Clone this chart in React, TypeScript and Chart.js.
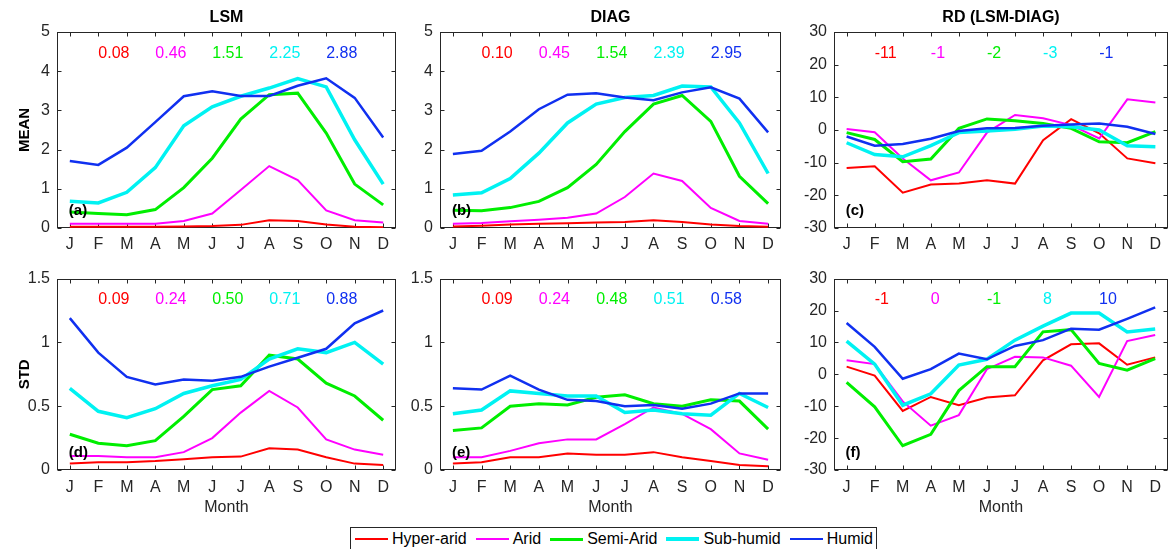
import React, { useEffect, useRef } from 'react';
import { Chart, registerables } from 'chart.js';

Chart.register(...registerables);

// ---------- data ----------
const months = ['J', 'F', 'M', 'A', 'M', 'J', 'J', 'A', 'S', 'O', 'N', 'D'];
const seriesNames = ['Hyper-arid', 'Arid', 'Semi-Arid', 'Sub-humid', 'Humid'];
const seriesColors = ['#ff0000', '#ff00ff', '#00ee00', '#00f2f2', '#1030f0'];
const seriesWidths = [2, 2, 3, 3.5, 2.5];
const noteMonths = [1, 3, 5, 7, 9];

// (a) LSM mean
const lsmMeanHyperArid = [0.03, 0.03, 0.03, 0.03, 0.04, 0.05, 0.08, 0.2, 0.18, 0.09, 0.03, 0.02];
const lsmMeanArid = [0.11, 0.11, 0.11, 0.11, 0.18, 0.37, 0.97, 1.58, 1.22, 0.45, 0.2, 0.14];
const lsmMeanSemiArid = [0.41, 0.37, 0.34, 0.47, 1.03, 1.78, 2.78, 3.4, 3.44, 2.42, 1.12, 0.59];
const lsmMeanSubHumid = [0.68, 0.64, 0.91, 1.54, 2.61, 3.09, 3.36, 3.57, 3.81, 3.6, 2.25, 1.12];
const lsmMeanHumid = [1.71, 1.61, 2.05, 2.7, 3.36, 3.49, 3.37, 3.37, 3.63, 3.82, 3.32, 2.31];
const lsmMeanNotes = ['0.08', '0.46', '1.51', '2.25', '2.88'];

// (b) DIAG mean
const diagMeanHyperArid = [0.04, 0.06, 0.09, 0.11, 0.12, 0.14, 0.15, 0.2, 0.15, 0.09, 0.05, 0.03];
const diagMeanArid = [0.11, 0.13, 0.17, 0.21, 0.26, 0.37, 0.79, 1.39, 1.2, 0.51, 0.18, 0.11];
const diagMeanSemiArid = [0.45, 0.44, 0.52, 0.68, 1.03, 1.62, 2.46, 3.16, 3.38, 2.72, 1.32, 0.62];
const diagMeanSubHumid = [0.84, 0.9, 1.26, 1.91, 2.68, 3.16, 3.33, 3.38, 3.62, 3.6, 2.68, 1.39];
const diagMeanHumid = [1.89, 1.97, 2.46, 3.03, 3.4, 3.44, 3.33, 3.26, 3.46, 3.59, 3.3, 2.44];
const diagMeanNotes = ['0.10', '0.45', '1.54', '2.39', '2.95'];

// (c) RD mean
const rdMeanHyperArid = [-11.6, -11.1, -19.2, -16.7, -16.4, -15.4, -16.4, -3.1, 3.3, -1.0, -8.7, -10.2];
const rdMeanArid = [0.3, -0.7, -8.7, -15.4, -13.0, -0.8, 4.6, 3.6, 1.5, -2.6, 9.4, 8.4];
const rdMeanSemiArid = [-0.8, -2.9, -9.7, -8.9, 0.5, 3.4, 2.8, 2.0, 0.5, -3.6, -3.9, -0.5];
const rdMeanSubHumid = [-3.9, -7.5, -8.2, -4.8, -0.8, -0.3, 0.2, 1.2, 1.0, 0.0, -4.8, -5.1];
const rdMeanHumid = [-2.0, -4.8, -4.3, -2.7, -0.3, 0.5, 0.6, 1.3, 1.7, 2.0, 1.0, -1.2];
const rdMeanNotes = ['-11', '-1', '-2', '-3', '-1'];

// (d) LSM std
const lsmStdHyperArid = [0.05, 0.06, 0.06, 0.07, 0.085, 0.1, 0.105, 0.17, 0.16, 0.1, 0.05, 0.04];
const lsmStdArid = [0.11, 0.11, 0.1, 0.1, 0.14, 0.25, 0.45, 0.62, 0.49, 0.24, 0.16, 0.12];
const lsmStdSemiArid = [0.28, 0.21, 0.19, 0.23, 0.42, 0.63, 0.66, 0.9, 0.87, 0.68, 0.58, 0.39];
const lsmStdSubHumid = [0.64, 0.46, 0.41, 0.48, 0.6, 0.66, 0.71, 0.87, 0.95, 0.92, 1.0, 0.83];
const lsmStdHumid = [1.19, 0.92, 0.73, 0.67, 0.71, 0.7, 0.73, 0.81, 0.88, 0.95, 1.15, 1.25];
const lsmStdNotes = ['0.09', '0.24', '0.50', '0.71', '0.88'];

// (e) DIAG std
const diagStdHyperArid = [0.05, 0.06, 0.1, 0.1, 0.13, 0.12, 0.12, 0.14, 0.1, 0.07, 0.04, 0.03];
const diagStdArid = [0.1, 0.1, 0.15, 0.21, 0.24, 0.24, 0.36, 0.49, 0.44, 0.32, 0.13, 0.08];
const diagStdSemiArid = [0.31, 0.33, 0.5, 0.52, 0.51, 0.57, 0.59, 0.52, 0.5, 0.55, 0.54, 0.32];
const diagStdSubHumid = [0.44, 0.47, 0.62, 0.6, 0.58, 0.58, 0.45, 0.47, 0.44, 0.43, 0.6, 0.49];
const diagStdHumid = [0.64, 0.63, 0.74, 0.63, 0.55, 0.54, 0.5, 0.51, 0.48, 0.52, 0.6, 0.6];
const diagStdNotes = ['0.09', '0.24', '0.48', '0.51', '0.58'];

// (f) RD std
const rdStdHyperArid = [2.4, -0.4, -11.5, -7.1, -9.7, -7.3, -6.6, 4.4, 9.4, 9.7, 3.0, 5.3];
const rdStdArid = [4.4, 3.2, -8.5, -16.1, -12.8, 1.6, 5.5, 5.3, 2.7, -7.1, 10.4, 12.3];
const rdStdSemiArid = [-2.5, -10.2, -22.4, -18.8, -5.1, 2.4, 2.4, 13.3, 14.0, 3.4, 1.3, 4.9];
const rdStdSubHumid = [10.4, 3.2, -9.7, -6.1, 2.9, 4.7, 10.7, 15.1, 19.2, 19.2, 13.3, 14.2];
const rdStdHumid = [16.1, 8.6, -1.4, 1.6, 6.5, 4.7, 8.9, 10.7, 14.3, 14.0, 17.4, 21.0];
const rdStdNotes = ['-1', '0', '-1', '8', '10'];

// ---------- layout / style ----------
const FONT = "'Liberation Sans', Arial, Helvetica, sans-serif";
const AXIS_COLOR = '#262626';
const TICK = 4;

type Panel = {
  key: string;
  title?: string;
  yTitle?: string;
  xTitle?: string;
  min: number;
  max: number;
  step: number;
  series: number[][];
  notes: string[];
  letter: string;
  left: number;
  top: number;
  width: number;
  height: number;
  yAxisW: number;
  padTop: number;
  padRight: number;
  xAxisH: number;
  xTickPad: number;
};

const ROW1 = { top: 0, height: 262, padTop: 32, xAxisH: 34, xTickPad: 7 };
const ROW2 = { top: 262, height: 265, padTop: 14, xAxisH: 57, xTickPad: 8 };
const COL1 = { left: 0, width: 400, yAxisW: 57, padRight: 4 };
const COL2 = { left: 400, width: 390, yAxisW: 40, padRight: 9 };
const COL3 = { left: 790, width: 379, yAxisW: 44, padRight: 1 };

const panels: Panel[] = [
  { key: 'a', title: 'LSM', yTitle: 'MEAN', min: 0, max: 5, step: 1, letter: '(a)', notes: lsmMeanNotes,
    series: [lsmMeanHyperArid, lsmMeanArid, lsmMeanSemiArid, lsmMeanSubHumid, lsmMeanHumid], ...ROW1, ...COL1 },
  { key: 'b', title: 'DIAG', min: 0, max: 5, step: 1, letter: '(b)', notes: diagMeanNotes,
    series: [diagMeanHyperArid, diagMeanArid, diagMeanSemiArid, diagMeanSubHumid, diagMeanHumid], ...ROW1, ...COL2 },
  { key: 'c', title: 'RD (LSM-DIAG)', min: -30, max: 30, step: 10, letter: '(c)', notes: rdMeanNotes,
    series: [rdMeanHyperArid, rdMeanArid, rdMeanSemiArid, rdMeanSubHumid, rdMeanHumid], ...ROW1, ...COL3 },
  { key: 'd', yTitle: 'STD', xTitle: 'Month', min: 0, max: 1.5, step: 0.5, letter: '(d)', notes: lsmStdNotes,
    series: [lsmStdHyperArid, lsmStdArid, lsmStdSemiArid, lsmStdSubHumid, lsmStdHumid], ...ROW2, ...COL1 },
  { key: 'e', xTitle: 'Month', min: 0, max: 1.5, step: 0.5, letter: '(e)', notes: diagStdNotes,
    series: [diagStdHyperArid, diagStdArid, diagStdSemiArid, diagStdSubHumid, diagStdHumid], ...ROW2, ...COL2 },
  { key: 'f', xTitle: 'Month', min: -30, max: 30, step: 10, letter: '(f)', notes: rdStdNotes,
    series: [rdStdHyperArid, rdStdArid, rdStdSemiArid, rdStdSubHumid, rdStdHumid], ...ROW2, ...COL3 },
];

function PanelChart({ p }: { p: Panel }) {
  const ref = useRef<HTMLCanvasElement>(null);
  useEffect(() => {
    const canvas = ref.current;
    if (!canvas) return;

    const framePlugin = {
      id: 'frame' + p.key,
      beforeDatasetsDraw(chart: any) {
        const { ctx, chartArea: a, scales } = chart;
        const xs = scales.x;
        const ys = scales.y;
        ctx.save();
        ctx.strokeStyle = AXIS_COLOR;
        ctx.lineWidth = 1;
        const L = Math.round(a.left) + 0.5;
        const R = Math.round(a.right) - 0.5;
        const T = Math.round(a.top) + 0.5;
        const B = Math.round(a.bottom) - 0.5;
        ctx.strokeRect(L, T, R - L, B - T);
        ctx.beginPath();
        months.forEach((_, i) => {
          const x = Math.round(xs.getPixelForValue(i)) + 0.5;
          ctx.moveTo(x, B);
          ctx.lineTo(x, B - TICK);
          ctx.moveTo(x, T);
          ctx.lineTo(x, T + TICK);
        });
        ys.ticks.forEach((t: any) => {
          const y = Math.round(ys.getPixelForValue(t.value)) + 0.5;
          ctx.moveTo(L, y);
          ctx.lineTo(L + TICK, y);
          ctx.moveTo(R, y);
          ctx.lineTo(R - TICK, y);
        });
        ctx.stroke();
        ctx.restore();
      },
      afterDatasetsDraw(chart: any) {
        const { ctx, chartArea: a, scales } = chart;
        const xs = scales.x;
        const h = a.bottom - a.top;
        ctx.save();
        if (p.title) {
          ctx.font = `bold 16px ${FONT}`;
          ctx.fillStyle = '#000';
          ctx.textAlign = 'center';
          ctx.textBaseline = 'middle';
          ctx.fillText(p.title, (a.left + a.right) / 2, a.top - 14);
        }
        ctx.font = `16px ${FONT}`;
        ctx.textAlign = 'left';
        ctx.textBaseline = 'middle';
        const ny = a.top + h * 0.11;
        p.notes.forEach((n, i) => {
          ctx.fillStyle = seriesColors[i];
          ctx.fillText(n, xs.getPixelForValue(noteMonths[i]), ny);
        });
        ctx.font = `bold 15px ${FONT}`;
        ctx.fillStyle = '#000';
        ctx.fillText(p.letter, xs.getPixelForValue(0) - 1, a.bottom - h * 0.09);
        ctx.restore();
      },
    };

    const tickFont = { family: FONT, size: 16 };
    const chart = new Chart(canvas, {
      type: 'line',
      data: {
        datasets: p.series.map((vals, i) => ({
          label: seriesNames[i],
          data: vals.map((v, j) => ({ x: j, y: v })),
          borderColor: seriesColors[i],
          backgroundColor: seriesColors[i],
          borderWidth: seriesWidths[i],
          pointRadius: 0,
          tension: 0,
          fill: false,
          order: seriesNames.length - 1 - i,
        })),
      },
      options: {
        responsive: false,
        maintainAspectRatio: false,
        animation: false,
        layout: { padding: { top: p.padTop, right: p.padRight, left: 0, bottom: 0 } },
        plugins: {
          legend: { display: false },
          tooltip: { enabled: false },
          title: { display: false },
        },
        scales: {
          x: {
            type: 'linear',
            min: -0.45,
            max: 11.45,
            grid: { display: false, drawTicks: false },
            border: { display: false },
            afterBuildTicks: (s: any) => {
              s.ticks = months.map((_, i) => ({ value: i }));
            },
            afterFit: (s: any) => {
              s.height = p.xAxisH;
            },
            ticks: {
              autoSkip: false,
              maxRotation: 0,
              padding: p.xTickPad,
              color: AXIS_COLOR,
              font: tickFont,
              callback: (v: any) => months[Math.round(Number(v))] ?? '',
            },
            title: p.xTitle
              ? { display: true, text: p.xTitle, color: AXIS_COLOR, font: tickFont, padding: { top: 0, bottom: 10 } }
              : { display: false },
          },
          y: {
            type: 'linear',
            min: p.min,
            max: p.max,
            grid: { display: false, drawTicks: false },
            border: { display: false },
            afterFit: (s: any) => {
              s.width = p.yAxisW;
            },
            ticks: {
              stepSize: p.step,
              padding: 7,
              color: AXIS_COLOR,
              font: tickFont,
              callback: (v: any) => String(v),
            },
            title: p.yTitle
              ? { display: true, text: p.yTitle, color: '#000', font: { family: FONT, size: 15, weight: 'bold' }, padding: { top: 16, bottom: 0 } }
              : { display: false },
          },
        },
      } as any,
      plugins: [framePlugin],
    });
    return () => chart.destroy();
  }, [p]);

  return (
    <canvas
      ref={ref}
      width={p.width}
      height={p.height}
      style={{ position: 'absolute', left: p.left, top: p.top, width: p.width, height: p.height }}
    />
  );
}

export default function App() {
  return (
    <div
      style={{
        position: 'absolute',
        left: 0,
        top: 0,
        width: 1169,
        height: 549,
        overflow: 'hidden',
        background: '#fff',
      }}
    >
      {panels.map((p) => (
        <PanelChart key={p.key} p={p} />
      ))}
      <div
        style={{
          position: 'absolute',
          left: 350,
          top: 527,
          width: 527,
          height: 24,
          boxSizing: 'border-box',
          border: `1px solid ${AXIS_COLOR}`,
          background: '#fff',
          display: 'flex',
          alignItems: 'center',
          paddingLeft: 4,
          font: `16px ${FONT}`,
          color: '#000',
          whiteSpace: 'nowrap',
        }}
      >
        {seriesNames.map((n, i) => (
          <div key={n} style={{ display: 'flex', alignItems: 'center', marginRight: 9 }}>
            <span
              style={{
                display: 'inline-block',
                width: 33,
                height: seriesWidths[i],
                background: seriesColors[i],
                marginRight: 4,
              }}
            />
            <span>{n}</span>
          </div>
        ))}
      </div>
    </div>
  );
}
